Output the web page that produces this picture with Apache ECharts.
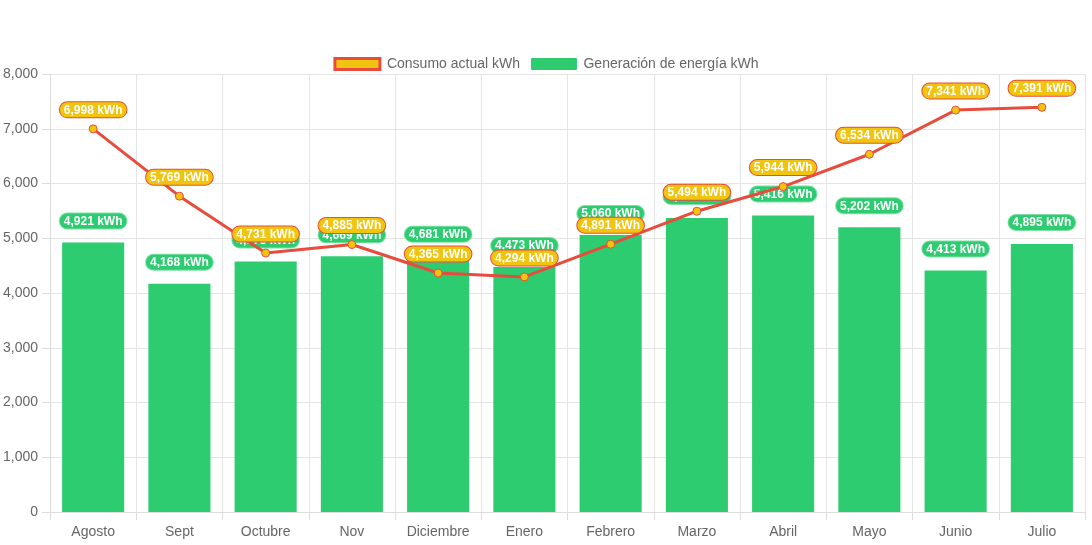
<!DOCTYPE html>
<html>
<head>
<meta charset="utf-8">
<script src="https://cdn.jsdelivr.net/npm/echarts@6/dist/echarts.min.js"></script>
<style>
html,body{margin:0;padding:0;background:#fff;}
#chart{width:1092px;height:545px;}
</style>
</head>
<body>
<div id="chart"></div>
<script>
const categories = ['Agosto','Sept','Octubre','Nov','Diciembre','Enero','Febrero','Marzo','Abril','Mayo','Junio','Julio'];
const consumo = [6998, 5769, 4731, 4885, 4365, 4294, 4891, 5494, 5944, 6534, 7341, 7391];
const generacion = [4921, 4168, 4575, 4669, 4681, 4473, 5060, 5370, 5416, 5202, 4413, 4895];
const yTicks = [0, 1000, 2000, 3000, 4000, 5000, 6000, 7000, 8000];

const fmt = v => v.toLocaleString('en-US');
const font = 'Liberation Sans, Arial, Helvetica, sans-serif';

const chart = echarts.init(document.getElementById('chart'));
chart.setOption({
  animation: false,
  textStyle: { fontFamily: font },
  legend: {
    top: 52,
    left: 'center',
    icon: 'rect',
    itemWidth: 45,
    itemHeight: 11,
    itemGap: 11,
    textStyle: { color: '#666', fontSize: 14, fontFamily: font, padding: [0, 0, 0, 2] },
    data: [
      { name: 'Consumo actual kWh', itemStyle: { color: '#f1c40f', borderColor: '#e74c3c', borderWidth: 3 } },
      { name: 'Generación de energía kWh', itemStyle: { color: '#2ecc71', borderColor: '#2ecc71', borderWidth: 1 } }
    ]
  },
  grid: { left: 50, right: 7, top: 74, bottom: 33, containLabel: false },
  xAxis: {
    type: 'category',
    data: categories,
    boundaryGap: true,
    axisLine: { show: true, lineStyle: { color: '#ddd' } },
    axisTick: { show: true, length: 8, lineStyle: { color: '#ddd' } },
    axisLabel: { color: '#666', fontSize: 14, margin: 13, fontFamily: font },
    splitLine: { show: true, lineStyle: { color: '#e5e5e5' } }
  },
  yAxis: {
    type: 'value',
    min: yTicks[0],
    max: yTicks[yTicks.length - 1],
    interval: yTicks[1] - yTicks[0],
    axisLine: { show: true, lineStyle: { color: '#ddd' } },
    axisTick: { show: true, length: 8, lineStyle: { color: '#ddd' } },
    axisLabel: { color: '#666', fontSize: 14, margin: 12, fontFamily: font, formatter: v => fmt(v) },
    splitLine: { show: true, lineStyle: { color: '#e5e5e5' } }
  },
  series: [
    {
      name: 'Generación de energía kWh',
      type: 'bar',
      data: generacion,
      barWidth: '72%',
      z: 2,
      itemStyle: { color: '#2ecc71' },
      label: {
        show: true,
        position: 'top',
        distance: 14,
        formatter: p => fmt(p.value) + ' kWh',
        color: '#fff',
        fontWeight: 'bold',
        fontSize: 12,
        fontFamily: font,
        backgroundColor: '#2ecc71',
        borderColor: '#7fe0a6',
        borderWidth: 1,
        borderRadius: 8,
        padding: [2, 4, 1, 4]
      }
    },
    {
      name: 'Consumo actual kWh',
      type: 'line',
      data: consumo,
      z: 5,
      symbol: 'circle',
      symbolSize: 8,
      lineStyle: { color: '#e74c3c', width: 3 },
      itemStyle: { color: '#f1c40f', borderColor: '#e74c3c', borderWidth: 1 },
      label: {
        show: true,
        position: 'top',
        distance: 7,
        formatter: p => fmt(p.value) + ' kWh',
        color: '#fff',
        fontWeight: 'bold',
        fontSize: 12,
        fontFamily: font,
        backgroundColor: '#f1c40f',
        borderColor: '#e74c3c',
        borderWidth: 1,
        borderRadius: 8,
        padding: [2, 4, 1, 4]
      }
    }
  ]
});
</script>
</body>
</html>
